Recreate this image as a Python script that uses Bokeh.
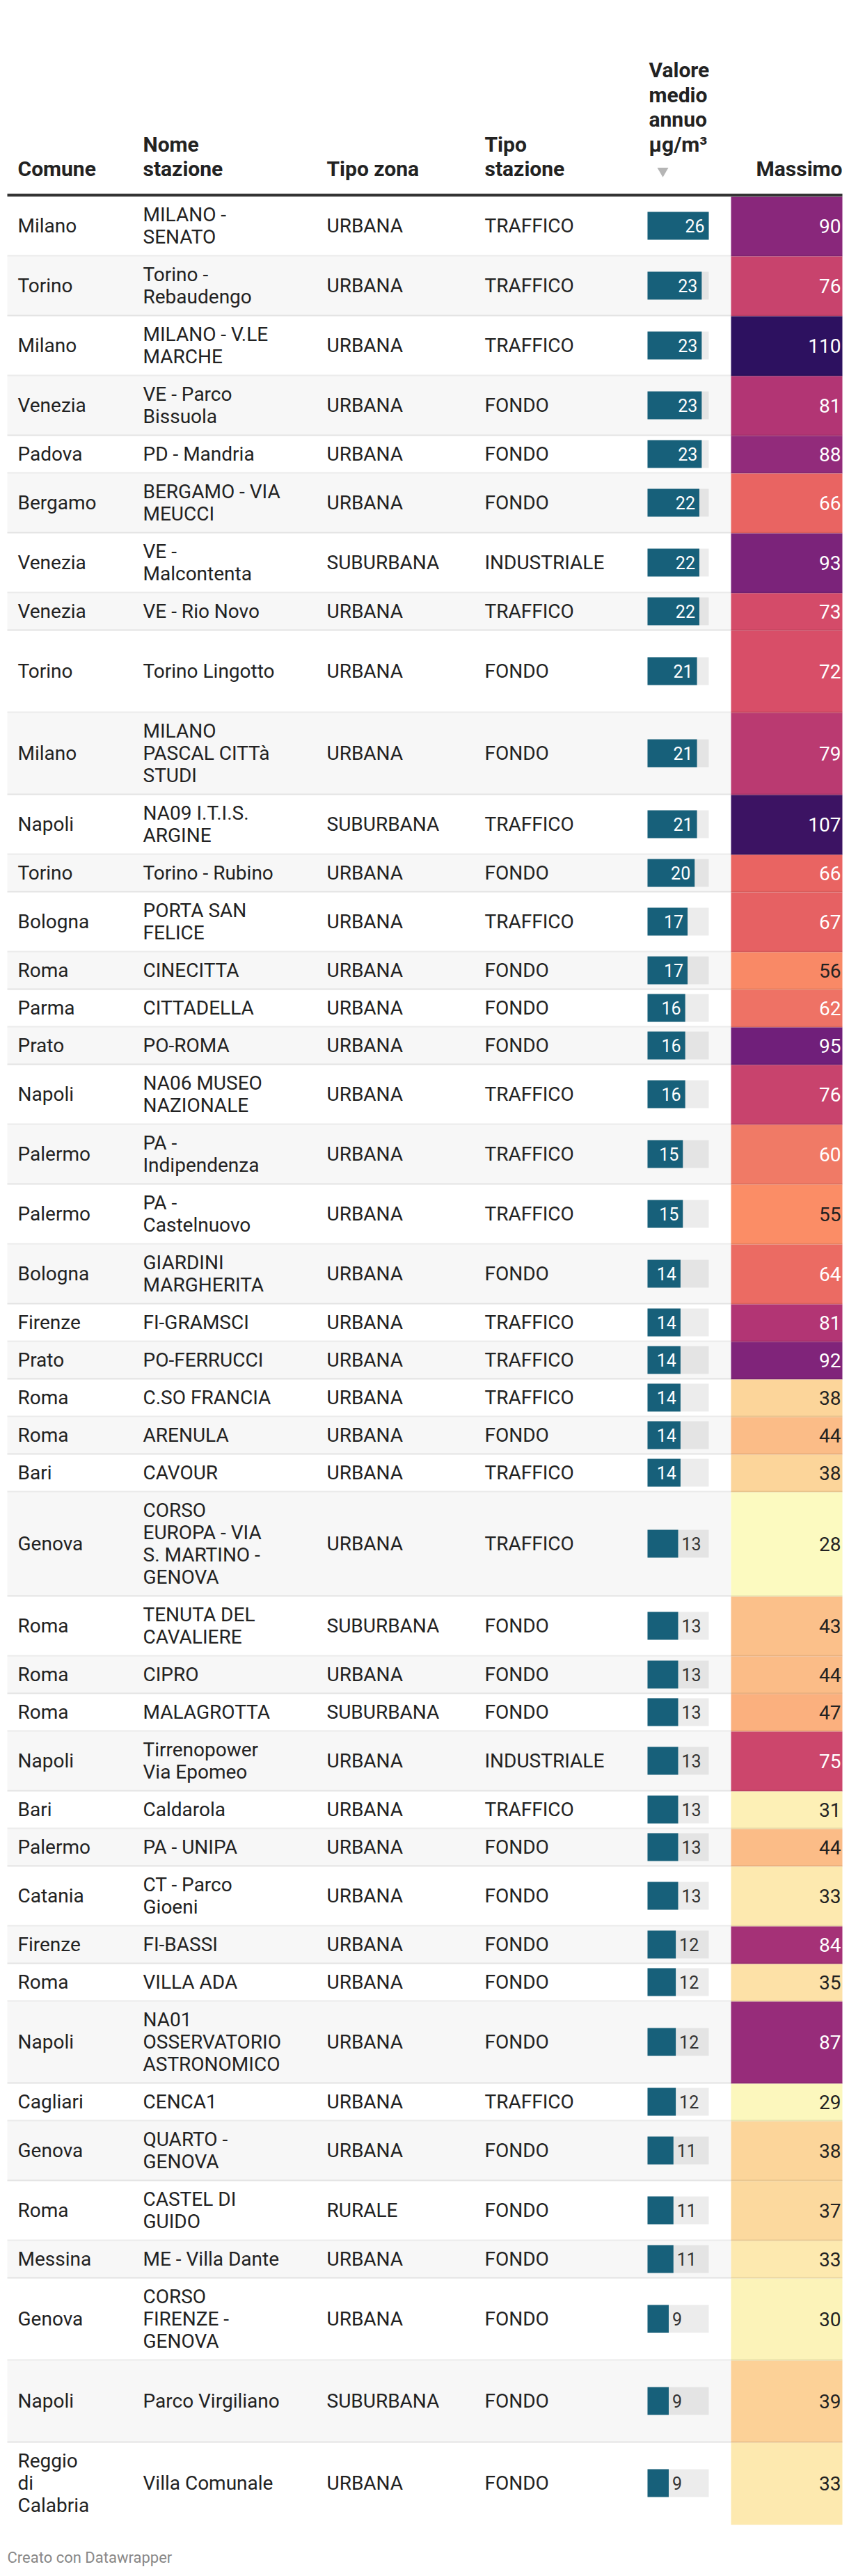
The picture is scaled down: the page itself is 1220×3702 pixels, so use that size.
from bokeh.plotting import figure
from bokeh.models import Range1d, ColumnDataSource, LinearColorMapper
from bokeh.transform import transform
from bokeh.core.properties import value
from bokeh.embed import file_html
from bokeh.resources import INLINE

# ---------------- data ----------------
comuni = ["Milano", "Torino", "Milano", "Venezia", "Padova", "Bergamo", "Venezia", "Venezia",
          "Torino", "Milano", "Napoli", "Torino", "Bologna", "Roma", "Parma", "Prato", "Napoli",
          "Palermo", "Palermo", "Bologna", "Firenze", "Prato", "Roma", "Roma", "Bari", "Genova",
          "Roma", "Roma", "Roma", "Napoli", "Bari", "Palermo", "Catania", "Firenze", "Roma",
          "Napoli", "Cagliari", "Genova", "Roma", "Messina", "Genova", "Napoli",
          "Reggio\ndi\nCalabria"]
stazioni = ["MILANO -\nSENATO", "Torino -\nRebaudengo", "MILANO - V.LE\nMARCHE", "VE - Parco\nBissuola",
            "PD - Mandria", "BERGAMO - VIA\nMEUCCI", "VE -\nMalcontenta", "VE - Rio Novo",
            "Torino Lingotto", "MILANO\nPASCAL CITTà\nSTUDI", "NA09 I.T.I.S.\nARGINE", "Torino - Rubino",
            "PORTA SAN\nFELICE", "CINECITTA", "CITTADELLA", "PO-ROMA", "NA06 MUSEO\nNAZIONALE",
            "PA -\nIndipendenza", "PA -\nCastelnuovo", "GIARDINI\nMARGHERITA", "FI-GRAMSCI",
            "PO-FERRUCCI", "C.SO FRANCIA", "ARENULA", "CAVOUR",
            "CORSO\nEUROPA - VIA\nS. MARTINO -\nGENOVA", "TENUTA DEL\nCAVALIERE", "CIPRO",
            "MALAGROTTA", "Tirrenopower\nVia Epomeo", "Caldarola", "PA - UNIPA", "CT - Parco\nGioeni",
            "FI-BASSI", "VILLA ADA", "NA01\nOSSERVATORIO\nASTRONOMICO", "CENCA1", "QUARTO -\nGENOVA",
            "CASTEL DI\nGUIDO", "ME - Villa Dante", "CORSO\nFIRENZE -\nGENOVA", "Parco Virgiliano",
            "Villa Comunale"]
tipo_zona = ["URBANA", "URBANA", "URBANA", "URBANA", "URBANA", "URBANA", "SUBURBANA", "URBANA",
             "URBANA", "URBANA", "SUBURBANA", "URBANA", "URBANA", "URBANA", "URBANA", "URBANA",
             "URBANA", "URBANA", "URBANA", "URBANA", "URBANA", "URBANA", "URBANA", "URBANA",
             "URBANA", "URBANA", "SUBURBANA", "URBANA", "SUBURBANA", "URBANA", "URBANA", "URBANA",
             "URBANA", "URBANA", "URBANA", "URBANA", "URBANA", "URBANA", "RURALE", "URBANA",
             "URBANA", "SUBURBANA", "URBANA"]
tipo_stazione = ["TRAFFICO", "TRAFFICO", "TRAFFICO", "FONDO", "FONDO", "FONDO", "INDUSTRIALE",
                 "TRAFFICO", "FONDO", "FONDO", "TRAFFICO", "FONDO", "TRAFFICO", "FONDO", "FONDO",
                 "FONDO", "TRAFFICO", "TRAFFICO", "TRAFFICO", "FONDO", "TRAFFICO", "TRAFFICO",
                 "TRAFFICO", "FONDO", "TRAFFICO", "TRAFFICO", "FONDO", "FONDO", "FONDO",
                 "INDUSTRIALE", "TRAFFICO", "FONDO", "FONDO", "FONDO", "FONDO", "FONDO", "TRAFFICO",
                 "FONDO", "FONDO", "FONDO", "FONDO", "FONDO", "FONDO"]
medio = [26, 23, 23, 23, 23, 22, 22, 22, 21, 21, 21, 20, 17, 17, 16, 16, 16, 15, 15, 14, 14, 14,
         14, 14, 14, 13, 13, 13, 13, 13, 13, 13, 13, 12, 12, 12, 12, 11, 11, 11, 9, 9, 9]
massimo = [90, 76, 110, 81, 88, 66, 93, 73, 72, 79, 107, 66, 67, 56, 62, 95, 76, 60, 55, 64, 81,
           92, 38, 44, 38, 28, 43, 44, 47, 75, 31, 44, 33, 84, 35, 87, 29, 38, 37, 33, 30, 39, 33]

headers = ["Comune", "Nome\nstazione", "Tipo zona", "Tipo\nstazione", "Valore\nmedio\nannuo\nµg/m³",
           "Massimo"]
footer = "Creato con Datawrapper"

# ---------------- layout / style ----------------
FONT = value("Roboto")
BODY_PX = 28
HEAD_PX = 30
TABLE_L, TABLE_R = 10, 1210
HEADER_LINE_Y = 278
Y0 = 282
LINE_H = 32
PAD = 22
row_min_lines = {8: 3, 41: 3}
COL_X = [25, 205, 469, 696]
BAR_L, BAR_W, BAR_H = 930, 88, 40
MAX_L = 1050
TXT = "#222222"
CAPC = 0.355  # cap-centre above baseline, in em

stops = [(28, "#fcfac0"), (33, "#fde8ae"), (38, "#fcd59a"), (44, "#fbbb86"), (47, "#fbb07e"),
         (55, "#fb8d66"), (60, "#f07966"), (66, "#e96462"), (72, "#d84e68"), (76, "#c8436d"),
         (81, "#b23574"), (88, "#932b7b"), (95, "#711f7a"), (107, "#3d1363"), (110, "#2d1160")]


def hx(c):
    return tuple(int(c[i:i + 2], 16) for i in (1, 3, 5))


def build_palette(lo, hi, n=256):
    pal = []
    for k in range(n):
        v = lo + (hi - lo) * k / (n - 1)
        for (a, ca), (b, cb) in zip(stops[:-1], stops[1:]):
            if a <= v <= b:
                t = (v - a) / (b - a)
                A, B = hx(ca), hx(cb)
                pal.append("#%02x%02x%02x" % tuple(round(A[j] + (B[j] - A[j]) * t) for j in range(3)))
                break
    return pal


lo, hi = min(massimo), max(massimo)
mapper = LinearColorMapper(palette=build_palette(lo, hi), low=lo, high=hi)

W, H = 1220, 3696
p = figure(width=W, height=H, output_backend="svg", toolbar_location=None,
           x_range=Range1d(0, W), y_range=Range1d(H, 0),
           min_border=0, outline_line_color=None, background_fill_color="white",
           border_fill_color="white")
p.axis.visible = False
p.grid.visible = False

n = len(comuni)
tops, bots, centers = [], [], []
y = Y0
for i in range(n):
    nl = max(comuni[i].count("\n"), stazioni[i].count("\n")) + 1
    nl = max(nl, row_min_lines.get(i, 1))
    h = PAD + LINE_H * nl
    tops.append(y)
    bots.append(y + h)
    centers.append(y + (h - 2) / 2)
    y += h

# row backgrounds
bg_idx = [i for i in range(n) if i % 2 == 1]
p.quad(left=TABLE_L, right=MAX_L, top=[tops[i] for i in bg_idx], bottom=[bots[i] for i in bg_idx],
       fill_color="#f7f7f7", line_color=None)

# Massimo heat cells
src_max = ColumnDataSource(dict(top=tops, bottom=bots, v=massimo))
p.quad(left=MAX_L, right=TABLE_R, top="top", bottom="bottom", source=src_max,
       fill_color=transform("v", mapper), line_color=None)

# dividers
p.quad(left=TABLE_L, right=TABLE_R, top=[b - 2 for b in bots[:-1]], bottom=bots[:-1],
       fill_color="black", fill_alpha=0.08, line_color=None)

# header line
p.quad(left=TABLE_L, right=TABLE_R, top=HEADER_LINE_Y, bottom=Y0, fill_color="#333333", line_color=None)

# bars
vmax = max(medio)
bar_r = [BAR_L + BAR_W * v / vmax for v in medio]
p.hbar(y=centers, height=BAR_H, left=BAR_L, right=BAR_L + BAR_W, fill_color="black",
       fill_alpha=0.075, line_color=None)
p.hbar(y=centers, height=BAR_H, left=BAR_L, right=bar_r, fill_color="#17607a", line_color=None)


def put_text(xs, ys, texts, px, align, color, bold=False):
    p.text(x=xs, y=ys, text=texts, text_align=align, text_baseline="middle", text_font=FONT,
           text_font_size=f"{px}px", text_color=color, text_font_style="bold" if bold else "normal")


# bar labels
inside = [i for i in range(n) if medio[i] >= 14]
outside = [i for i in range(n) if medio[i] < 14]
put_text([bar_r[i] - 6 for i in inside], [centers[i] for i in inside],
         [str(medio[i]) for i in inside], 25, "right", "white")
put_text([bar_r[i] + 5 for i in outside], [centers[i] for i in outside],
         [str(medio[i]) for i in outside], 25, "left", "#333333")

# massimo labels
wh = [i for i in range(n) if massimo[i] >= 58]
dk = [i for i in range(n) if massimo[i] < 58]
for idx, col in ((wh, "white"), (dk, TXT)):
    put_text([1208] * len(idx), [centers[i] for i in idx], [str(massimo[i]) for i in idx],
             BODY_PX, "right", col)

# body text cells
xs, ys, ts = [], [], []
for i in range(n):
    for cx, cell in zip(COL_X, (comuni[i], stazioni[i], tipo_zona[i], tipo_stazione[i])):
        lines = cell.split("\n")
        k = len(lines)
        for j, ln in enumerate(lines):
            xs.append(cx)
            ys.append(centers[i] + (j - (k - 1) / 2) * LINE_H)
            ts.append(ln)
put_text(xs, ys, ts, BODY_PX, "left", TXT)

# headers
HB = 253 - CAPC * HEAD_PX
HLH = 35.5
hx_pos = [25, 205, 469, 696, 932]
hxs, hys, hts = [], [], []
for cx, htxt in zip(hx_pos, headers[:5]):
    lines = htxt.split("\n")
    last = HB - (HLH if htxt.startswith("Valore") else 0)
    for j, ln in enumerate(lines):
        hxs.append(cx)
        hys.append(last - (len(lines) - 1 - j) * HLH)
        hts.append(ln)
put_text(hxs, hys, hts, HEAD_PX, "left", TXT, bold=True)
put_text([1210], [HB], [headers[5]], HEAD_PX, "right", TXT, bold=True)
p.scatter(x=[952], y=[245], marker="inverted_triangle", size=16, fill_color="#b5b5b5", line_color=None)

# footer
put_text([10], [3683 - CAPC * 22], [footer], 22, "left", "#888888")

open("out.html", "w").write(file_html(p, INLINE))
